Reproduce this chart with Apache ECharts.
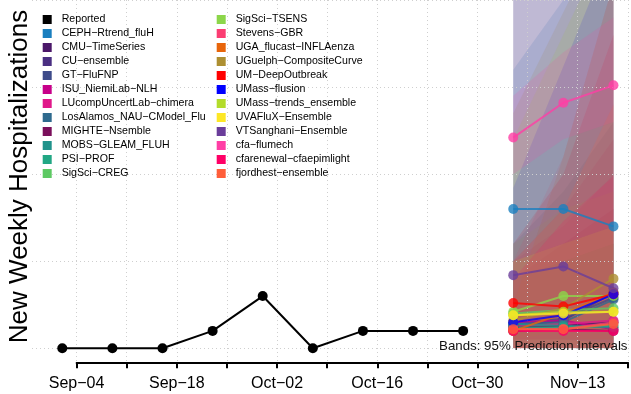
<!DOCTYPE html>
<html>
<head>
<meta charset="utf-8">
<script src="https://cdn.jsdelivr.net/npm/echarts@6/dist/echarts.min.js"></script>
<style>
html,body{margin:0;padding:0;background:#fff;}
#chart{width:631px;height:394px;}
</style>
</head>
<body>
<div id="chart"></div>
<script>
// ---------------- DATA ----------------
const reportedDates = ["2023-09-02","2023-09-09","2023-09-16","2023-09-23","2023-09-30","2023-10-07","2023-10-14","2023-10-21","2023-10-28"];
const reportedValues = [0, 0, 0, 1, 3, 0, 1, 1, 1];

const forecastDates = ["2023-11-04","2023-11-11","2023-11-18"];

const modelNames = [
  "CEPH−Rtrend_fluH","CMU−TimeSeries","CU−ensemble","GT−FluFNP","ISU_NiemiLab−NLH",
  "LUcompUncertLab−chimera","LosAlamos_NAU−CModel_Flu","MIGHTE−Nsemble","MOBS−GLEAM_FLUH",
  "PSI−PROF","SigSci−CREG","SigSci−TSENS","Stevens−GBR","UGA_flucast−INFLAenza",
  "UGuelph−CompositeCurve","UM−DeepOutbreak","UMass−flusion","UMass−trends_ensemble",
  "UVAFluX−Ensemble","VTSanghani−Ensemble","cfa−flumech","cfarenewal−cfaepimlight","fjordhest−ensemble"
];
const modelColors = [
  "#1A7FBF","#4B1769","#4A2F82","#3E4B8A","#C70089",
  "#E0188A","#2E6A8E","#7A0F5B","#20938B",
  "#21A784","#5DC963","#8CD64A","#FB3D72","#E8650A",
  "#AD8F32","#FF0000","#0000FF","#B3DC2B",
  "#FDE725","#6A3D9A","#FF3EA5","#FF0066","#FF5E3A"
];
const medianValues = [
  [8.0, 8.0, 7.0],
  [1.2, 1.3, 1.5],
  [1.3, 1.6, 3.2],
  [1.4, 1.7, 2.9],
  [1.5, 1.6, 1.1],
  [1.3, 1.4, 1.6],
  [1.4, 1.5, 2.8],
  [1.0, 1.1, 1.0],
  [1.4, 1.3, 1.2],
  [1.2, 1.2, 1.3],
  [2.0, 2.2, 2.3],
  [2.1, 3.0, 3.0],
  [1.1, 1.1, 1.5],
  [1.0, 2.0, 3.2],
  [1.6, 2.3, 4.0],
  [2.6, 2.4, 3.1],
  [1.5, 1.9, 3.1],
  [1.9, 2.1, 2.1],
  [1.9, 2.0, 2.1],
  [4.2, 4.7, 3.45],
  [12.1, 14.1, 15.1],
  [1.0, 1.0, 1.0],
  [1.1, 1.1, 1.4]
];
const lowerValues = [
  [2, 1.5, 1],[0,0,0],[0,0,0],[0,0,0],[0,0,0],
  [0,0,0],[0,0,0],[0,0,0],[0.2,0.2,0.2],
  [0,0,0],[0.5,0.5,0.5],[0.5,1,1],[0,0,0],[0,0,0],
  [0,0,0],[0.5,0.5,0.5],[0,0,0],[0,0,0],
  [0,0,0],[0.5,0.5,0.3],[10,12,13],[0,0,0],[0,0,0]
];
const upperValues = [
  [16, 20, 22],[4, 5, 6],[24, 30, 36],[22, 28, 34],[5, 8, 12],
  [5, 7, 10],[6, 9, 13],[4, 6, 8],[4, 5, 6],
  [4, 5, 6],[5, 6, 7],[6, 8, 9],[5, 11, 21],[2.5, 11, 21],
  [13.5, 19.3, 25],[6, 10, 18],[9.2, 16.2, 23.2],[12, 18, 24],
  [5, 6, 7],[22, 24, 26],[14.5, 17, 19],[4, 7.3, 9.9],[5, 8, 14]
];

const axisStartDate = "2023-09-04";
const axisEndDate = "2023-11-20";
const xTickLabels = ["Sep−04","Sep−18","Oct−02","Oct−16","Oct−30","Nov−13"];
const yTicks = [0, 5, 10, 15, 20];

// ---------------- BUILD ----------------
const dayNum = s => Math.round((Date.parse(s + "T00:00:00Z") - Date.parse(axisStartDate + "T00:00:00Z")) / 864e5);
const endDay = dayNum(axisEndDate);
const fcDays = forecastDates.map(dayNum);
const FONT = "Liberation Sans, Arial, Helvetica, sans-serif";

function hexA(hex, a) {
  const n = parseInt(hex.slice(1), 16);
  return `rgba(${(n>>16)&255},${(n>>8)&255},${n&255},${a})`;
}

const series = [];

// bands
modelNames.forEach((name, i) => {
  series.push({
    name: "band_" + name,
    type: "custom",
    xAxisIndex: 0, yAxisIndex: 0,
    z: 0,
    silent: true,
    clip: true,
    data: [[fcDays[0], lowerValues[i][0]]],
    renderItem: function (params, api) {
      const pts = [];
      for (let k = 0; k < fcDays.length; k++) pts.push(api.coord([fcDays[k], upperValues[i][k]]));
      for (let k = fcDays.length - 1; k >= 0; k--) pts.push(api.coord([fcDays[k], lowerValues[i][k]]));
      return { type: "polygon", shape: { points: pts }, style: { fill: hexA(modelColors[i], 0.14), stroke: null } };
    }
  });
});

// reported
series.push({
  name: "Reported",
  type: "line",
  xAxisIndex: 0, yAxisIndex: 0,
  z: 3,
  data: reportedDates.map((d, k) => [dayNum(d), reportedValues[k]]),
  symbol: "circle", symbolSize: 10,
  lineStyle: { color: "#000", width: 2 },
  itemStyle: { color: "#000" },
  clip: false
});

// model medians
modelNames.forEach((name, i) => {
  series.push({
    name: name,
    type: "line",
    xAxisIndex: 0, yAxisIndex: 0,
    z: 3,
    data: fcDays.map((d, k) => [d, medianValues[i][k]]),
    symbol: "circle", symbolSize: 10,
    lineStyle: { color: modelColors[i], width: 2, opacity: 0.8 },
    itemStyle: { color: modelColors[i], opacity: 0.8 },
    clip: false
  });
});

// dummy series for axis grid
series.push({ type: "line", xAxisIndex: 1, yAxisIndex: 1, data: [], silent: true });

const legendNames = ["Reported"].concat(modelNames);
const legendColors = ["#000000"].concat(modelColors);
const legendItems = legendNames.map((n, i) => ({ name: n, itemStyle: { color: legendColors[i], opacity: 1 } }));

const legendCommon = {
  orient: "vertical",
  icon: "rect",
  itemWidth: 9, itemHeight: 9,
  itemGap: 2,
  selectedMode: false,
  padding: 0,
  textStyle: { fontFamily: FONT, fontSize: 10.6, color: "#000", lineHeight: 12, padding: [0, 0, 0, 5] }
};

const option = {
  animation: false,
  backgroundColor: "#fff",
  grid: [
    { left: 32, right: 0, top: 348.3 - 20 * 17.62, bottom: 394 - 348.3 },
    { left: 76.6, right: 631 - 627.8, top: 0, bottom: 394 - 362.3 }
  ],
  xAxis: [
    { type: "value", gridIndex: 0, min: -6.23, max: 77.45, show: false },
    {
      type: "value", gridIndex: 1, min: 0, max: endDay, interval: 7, z: 1,
      axisLine: { show: true, lineStyle: { color: "#000", width: 2 } },
      axisTick: { show: true, length: 6, lineStyle: { color: "#000", width: 2 } },
      axisLabel: {
        show: true, margin: 13, color: "#000", fontFamily: FONT, fontSize: 16,
        formatter: v => (v % 14 === 0 && xTickLabels[v / 14] !== undefined) ? xTickLabels[v / 14] : ""
      },
      splitLine: { show: true, lineStyle: { color: "#cfcfcf", width: 1, type: [1, 3] } }
    }
  ],
  yAxis: [
    {
      type: "value", gridIndex: 0, min: yTicks[0], max: yTicks[yTicks.length - 1], interval: yTicks[1] - yTicks[0], z: 1,
      axisLine: { show: false }, axisTick: { show: false }, axisLabel: { show: false },
      splitLine: { show: true, lineStyle: { color: "#cfcfcf", width: 1, type: [1, 3] } }
    },
    { type: "value", gridIndex: 1, min: 0, max: 1, show: false }
  ],
  legend: [
    Object.assign({}, legendCommon, { left: 42.7, top: 13.5, data: legendItems.slice(0, 12) }),
    Object.assign({}, legendCommon, { left: 216.7, top: 13.5, data: legendItems.slice(12) })
  ],
  graphic: [
    {
      type: "text", x: 20, y: 176.5, rotation: Math.PI / 2, z: 10,
      style: { text: "New Weekly Hospitalizations", font: "26px " + FONT, fill: "#000", textAlign: "center", textVerticalAlign: "middle" }
    },
    {
      type: "text", x: 627.5, y: 346.5, z: 10,
      style: { text: "Bands: 95% Prediction Intervals", font: "13.3px " + FONT, fill: "#111", textAlign: "right", textVerticalAlign: "middle" }
    }
  ],
  series: series
};

const chart = echarts.init(document.getElementById("chart"), null, { renderer: "canvas" });
chart.setOption(option);
</script>
</body>
</html>
